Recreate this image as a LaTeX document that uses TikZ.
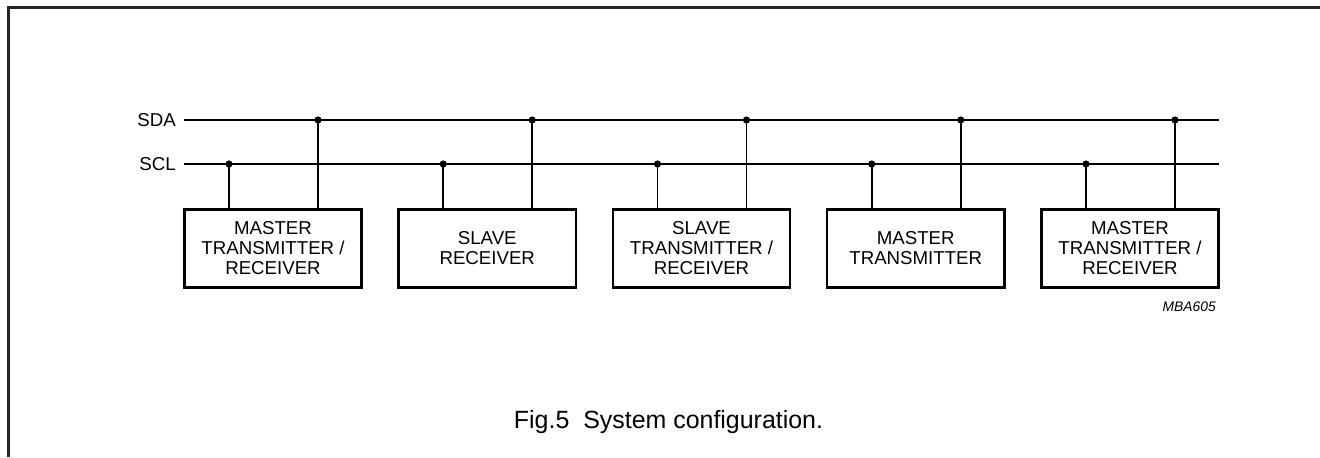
\documentclass[tikz,border=0pt]{standalone}
\usepackage{fontspec}
\setmainfont{Liberation Sans}
\begin{document}
\begin{tikzpicture}[x=0.75pt,y=-0.75pt,
  dev/.style={draw,line width=1.9pt,minimum width=133pt,minimum height=58.5pt,inner sep=0pt,align=center,font=\fontsize{14}{15}\selectfont},
  bus/.style={line width=1.2pt},
  tapdot/.style={circle,fill,inner sep=0pt,minimum size=5.4pt},
  lbl/.style={anchor=east,inner sep=0pt,font=\fontsize{14}{16}\selectfont},
  frameline/.style={line width=1.6pt,draw=black!85}]
\useasboundingbox (0,0) rectangle (1320,457);
\draw[frameline] (8.5,457) -- (8.5,7.5) -- (1320,7.5);

\node[lbl] (sda) at (176,120) {SDA};
\node[lbl] (scl) at (176,164) {SCL};
\coordinate (sdaL) at (184,120);
\coordinate (sdaR) at (1219,120);
\coordinate (sclL) at (184,164);
\coordinate (sclR) at (1219,164);
\draw[bus] (sdaL) -- (sdaR);
\draw[bus] (sclL) -- (sclR);

\node[dev] (b1) at (273,248.5) {MASTER\\TRANSMITTER /\\RECEIVER};
\node[dev] (b2) at (487.25,248.5) {SLAVE\\RECEIVER};
\node[dev] (b3) at (701.5,248.5) {SLAVE\\TRANSMITTER /\\RECEIVER};
\node[dev] (b4) at (915.75,248.5) {MASTER\\TRANSMITTER};
\node[dev] (b5) at (1130,248.5) {MASTER\\TRANSMITTER /\\RECEIVER};

\foreach \b in {b1,b2,b3,b4,b5}{
  \path (\b.center) ++(-44,0) coordinate (\b c);
  \path (\b.center) ++(45,0) coordinate (\b d);
  \coordinate (\b sc) at (\b c |- sclL);
  \coordinate (\b sd) at (\b d |- sdaL);
  \draw[bus] (\b sc) -- (\b sc |- \b.north);
  \draw[bus] (\b sd) -- (\b sd |- \b.north);
  \node[tapdot] at (\b sc) {};
  \node[tapdot] at (\b sd) {};
}

\node[anchor=east,inner sep=0pt,font=\fontsize{10.4}{12}\selectfont\itshape] (code) at (1216,307) {MBA605};
\node[inner sep=0pt,font=\fontsize{18.7}{22}\selectfont] (cap) at (668.5,422) {Fig.5\hspace{0.28em} System configuration.};
\end{tikzpicture}
\end{document}
